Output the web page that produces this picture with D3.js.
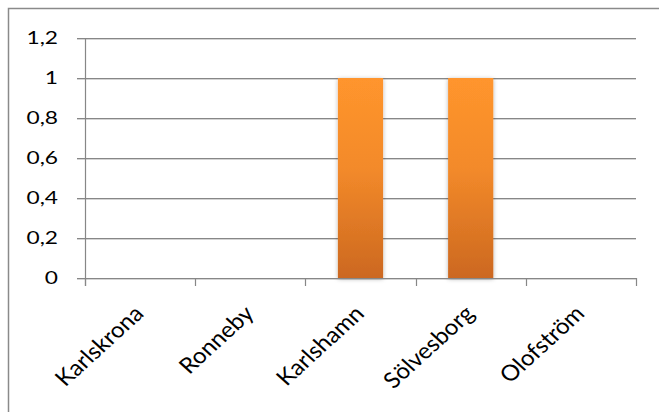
<!DOCTYPE html>
<html>
<head>
<meta charset="utf-8">
<script src="https://cdn.jsdelivr.net/npm/d3@7"></script>
<style>
    body { margin: 0; background: #fff; }
    svg { display: block; }
</style>
</head>
<body>
<svg class="chart" width="659" height="412"></svg>
<script>
// data
var cities = ["Karlskrona", "Ronneby", "Karlshamn", "Sölvesborg", "Olofström"];
var values = [0, 0, 1, 1, 0];
var yTicks = [0, 0.2, 0.4, 0.6, 0.8, 1, 1.2];

var svg = d3.select(".chart");
var font = "Lato, 'Open Sans', sans-serif";

// chart frame
svg.append("rect")
    .attr("x", 8.5).attr("y", 8.5)
    .attr("width", 700).attr("height", 500)
    .attr("fill", "none")
    .attr("stroke", "#8a8a8a")
    .attr("stroke-width", 1.5);

var defs = svg.append("defs");
var grad = defs.append("linearGradient")
    .attr("id", "barGrad")
    .attr("x1", 0).attr("y1", 0).attr("x2", 0).attr("y2", 1);
grad.append("stop").attr("offset", "0%").attr("stop-color", "#ff952d");
grad.append("stop").attr("offset", "45%").attr("stop-color", "#f38a2a");
grad.append("stop").attr("offset", "100%").attr("stop-color", "#cc6820");

var shadow = defs.append("filter")
    .attr("id", "barShadow")
    .attr("x", "-30%").attr("y", "-10%").attr("width", "160%").attr("height", "120%");
shadow.append("feDropShadow")
    .attr("dx", 0).attr("dy", 1)
    .attr("stdDeviation", 2)
    .attr("flood-color", "#000")
    .attr("flood-opacity", 0.3);

var plotL = 85, plotR = 636, plotT = 38, plotB = 278;

var x = d3.scaleBand()
    .domain(cities)
    .range([plotL, plotR])
    .paddingInner(0.59)
    .paddingOuter(0.295);

var y = d3.scaleLinear()
    .domain([0, 1.2])
    .range([plotB, plotT]);

var fmt = function (d) { return String(d).replace(".", ","); };

// gridlines
var grid = svg.append("g");
grid.selectAll(".shade")
    .data(yTicks).enter().append("line")
    .attr("x1", plotL - 8).attr("x2", plotR)
    .attr("y1", function (d) { return Math.round(y(d)) + 1.5; })
    .attr("y2", function (d) { return Math.round(y(d)) + 1.5; })
    .attr("stroke", "#d4d4d4").attr("stroke-width", 1);
grid.selectAll(".grid")
    .data(yTicks).enter().append("line")
    .attr("x1", plotL - 8).attr("x2", plotR)
    .attr("y1", function (d) { return Math.round(y(d)) + 0.5; })
    .attr("y2", function (d) { return Math.round(y(d)) + 0.5; })
    .attr("stroke", "#878787").attr("stroke-width", 1.2);

// y labels (picture is a bit stretched sideways)
svg.append("g").selectAll("text")
    .data(yTicks).enter().append("text")
    .attr("transform", function (d) {
        return "translate(58," + y(d) + ") scale(1.3,1)";
    })
    .attr("dy", "0.36em")
    .attr("text-anchor", "end")
    .style("font", "17.5px " + font)
    .style("fill", "#000")
    .text(fmt);

// bars
var barData = cities.map(function (c, i) { return { city: c, value: values[i] }; })
    .filter(function (d) { return d.value > 0; });
svg.append("g").selectAll("rect")
    .data(barData).enter().append("rect")
    .attr("x", function (d) { return x(d.city); })
    .attr("y", function (d) { return y(d.value); })
    .attr("width", x.bandwidth())
    .attr("height", function (d) { return y(0) - y(d.value); })
    .attr("fill", "url(#barGrad)")
    .attr("filter", "url(#barShadow)");

// y axis line
svg.append("line")
    .attr("x1", plotL + 0.5).attr("x2", plotL + 0.5)
    .attr("y1", plotT).attr("y2", plotB + 8)
    .attr("stroke", "#878787").attr("stroke-width", 1.2);

// x axis line + ticks
var step = x.step();
var tickPos = d3.range(cities.length + 1).map(function (i) { return plotL + i * step; });
svg.append("line")
    .attr("x1", plotL).attr("x2", plotR)
    .attr("y1", plotB + 0.5).attr("y2", plotB + 0.5)
    .attr("stroke", "#878787").attr("stroke-width", 1.2);
svg.append("g").selectAll("line")
    .data(tickPos).enter().append("line")
    .attr("x1", function (d) { return Math.round(d) + 0.5; })
    .attr("x2", function (d) { return Math.round(d) + 0.5; })
    .attr("y1", plotB).attr("y2", plotB + 8)
    .attr("stroke", "#878787").attr("stroke-width", 1.2);

// category labels
svg.append("g").selectAll("text")
    .data(cities).enter().append("text")
    .attr("transform", function (d) {
        var cx = x(d) + x.bandwidth() / 2 + 5;
        return "translate(" + cx + "," + (plotB + 37) + ") scale(1.1,1) rotate(-45)";
    })
    .attr("text-anchor", "end")
    .style("font", "22px " + font)
    .style("fill", "#000")
    .text(function (d) { return d; });
</script>
</body>
</html>
